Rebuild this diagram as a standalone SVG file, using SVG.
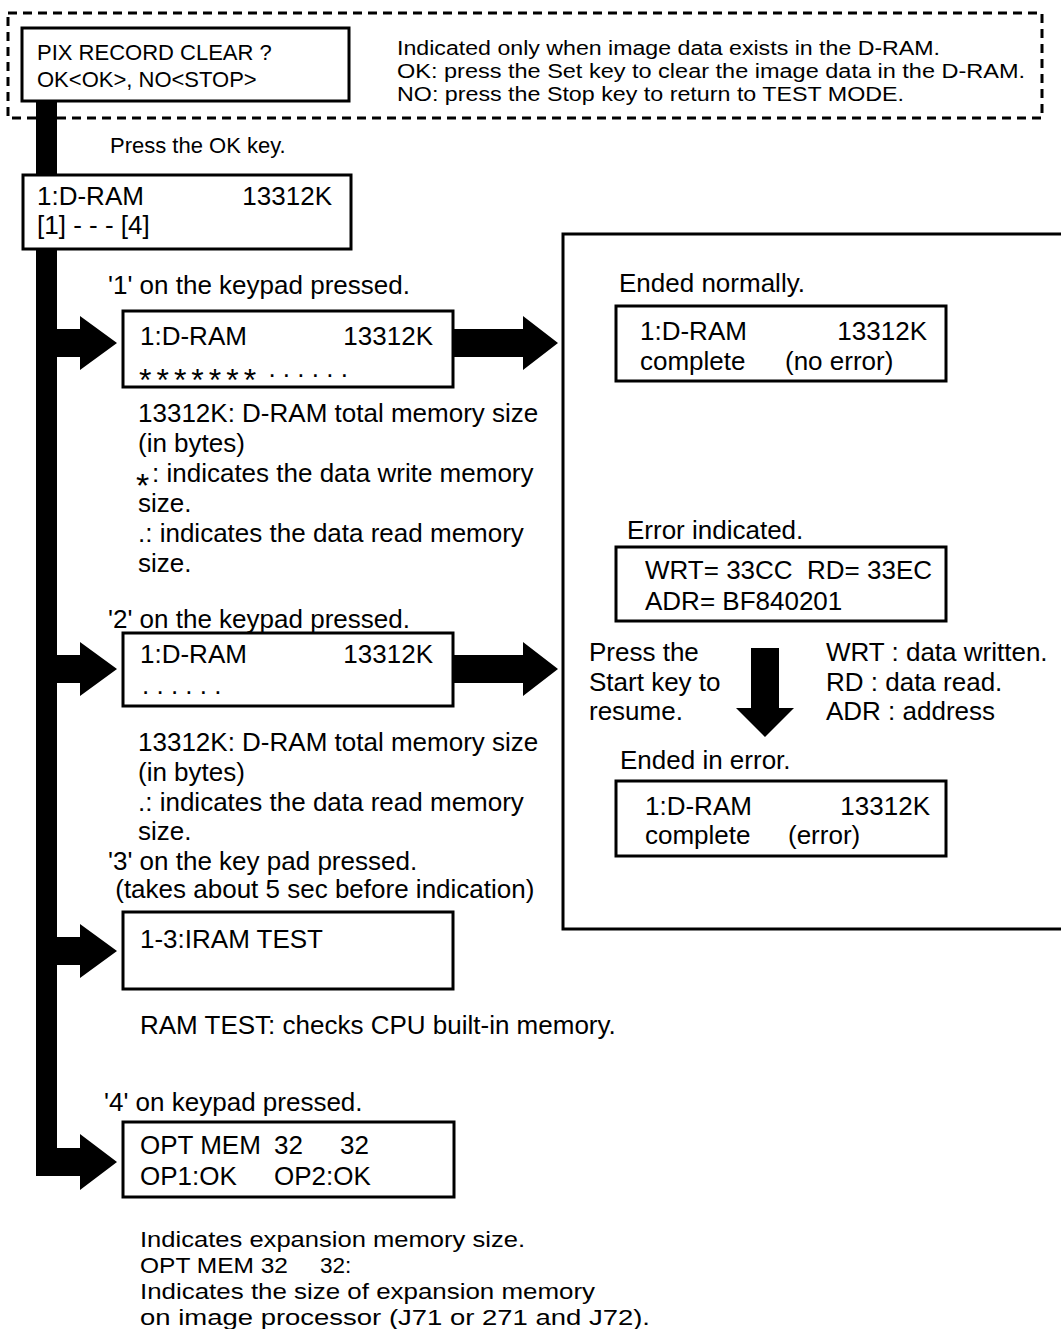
<svg xmlns="http://www.w3.org/2000/svg" width="1061" height="1329" viewBox="0 0 1061 1329">
  <style>
    text { font-family: "Liberation Sans", Arial, Helvetica, sans-serif; fill: #000; }
    .s22 { font-size: 22px; }
    .s20 { font-size: 20px; }
    .s26 { font-size: 26px; }
    .note { font-size: 22.5px; }
    .end { text-anchor: end; }
    .box { fill: #fff; stroke: #000; stroke-width: 3; }
    .panel { fill: none; stroke: #000; stroke-width: 3; }
    .dash { fill: none; stroke: #000; stroke-width: 3; stroke-dasharray: 9 6; }
    .blk { fill: #000; stroke: none; }
    .stars { font-size: 32px; letter-spacing: 5px; }
    .star { font-size: 34px; }
  </style>

  <!-- dashed frame around the optional clear prompt -->
  <rect id="clear-frame" class="dash" x="8" y="13" width="1034" height="105"/>

  <!-- flow bar and block arrows -->
  <g id="connectors">
    <rect class="blk" x="36" y="100" width="21" height="1076"/>
    <!-- branch arrows into each display -->
    <polygon class="blk" points="57,329 80,329 80,316 117,343 80,370 80,357 57,357"/>
    <polygon class="blk" points="57,655 80,655 80,642 117,669 80,696 80,683 57,683"/>
    <polygon class="blk" points="57,937 80,937 80,924 117,951 80,978 80,965 57,965"/>
    <polygon class="blk" points="36,1148 80,1148 80,1134 117,1162 80,1190 80,1176 36,1176"/>
    <!-- results arrows -->
    <polygon class="blk" points="453,329 523,329 523,316 558,343 523,370 523,357 453,357"/>
    <polygon class="blk" points="453,655 523,655 523,642 558,669 523,696 523,683 453,683"/>
    <!-- resume arrow -->
    <polygon class="blk" points="751,648 779,648 779,708 794,708 765,737 736,708 751,708"/>
  </g>

  <g id="pix-clear">
    <rect class="box" x="22" y="28" width="327" height="73"/>
    <text class="s22" x="37" y="60">PIX RECORD CLEAR ?</text>
    <text class="s22" x="37" y="87">OK&lt;OK&gt;, NO&lt;STOP&gt;</text>
  </g>

  <g id="pix-clear-note">
    <text class="s20" x="397" y="55" textLength="543" lengthAdjust="spacingAndGlyphs">Indicated only when image data exists in the D-RAM.</text>
    <text class="s20" x="397" y="78" textLength="628" lengthAdjust="spacingAndGlyphs">OK: press the Set key to clear the image data in the D-RAM.</text>
    <text class="s20" x="397" y="101" textLength="507" lengthAdjust="spacingAndGlyphs">NO: press the Stop key to return to TEST MODE.</text>
  </g>

  <text id="ok-label" class="s22" x="110" y="153">Press the OK key.</text>

  <g id="dram-menu">
    <rect class="box" x="23" y="175" width="328" height="74"/>
    <text class="s26" x="37" y="205">1:D-RAM</text>
    <text class="s26 end" x="332" y="205">13312K</text>
    <text class="s26" x="37" y="234">[1] - - - [4]</text>
  </g>

  <!-- key 1: write / read test -->
  <g id="key1">
    <text class="s26" x="108" y="294">'1' on the keypad pressed.</text>
    <rect class="box" x="123" y="311" width="330" height="76"/>
    <text class="s26" x="140" y="345">1:D-RAM</text>
    <text class="s26 end" x="433" y="345">13312K</text>
    <text class="s26" x="139" y="377"><tspan class="stars" dy="14">*******</tspan><tspan dy="-14"> . . . . . .</tspan></text>
    <text class="s26" x="138" y="422">13312K: D-RAM total memory size</text>
    <text class="s26" x="138" y="452">(in bytes)</text>
    <text class="star" x="136" y="497">*</text>
    <text class="s26" x="152" y="482">: indicates the data write memory</text>
    <text class="s26" x="138" y="512">size.</text>
    <text class="s26" x="138" y="542">.: indicates the data read memory</text>
    <text class="s26" x="138" y="572">size.</text>
  </g>

  <!-- key 2: read test -->
  <g id="key2">
    <text class="s26" x="108" y="628">'2' on the keypad pressed.</text>
    <rect class="box" x="123" y="633" width="330" height="73"/>
    <text class="s26" x="140" y="663">1:D-RAM</text>
    <text class="s26 end" x="433" y="663">13312K</text>
    <text class="s26" x="142" y="694">. . . . . .</text>
    <text class="s26" x="138" y="751">13312K: D-RAM total memory size</text>
    <text class="s26" x="138" y="781">(in bytes)</text>
    <text class="s26" x="138" y="811">.: indicates the data read memory</text>
    <text class="s26" x="138" y="840">size.</text>
  </g>

  <!-- test result panel -->
  <g id="results">
    <rect class="panel" x="563" y="234" width="520" height="695"/>
    <text class="s26" x="619" y="292">Ended normally.</text>
    <rect class="box" x="616" y="306" width="330" height="75"/>
    <text class="s26" x="640" y="340">1:D-RAM</text>
    <text class="s26 end" x="927" y="340">13312K</text>
    <text class="s26" x="640" y="370">complete</text>
    <text class="s26" x="785" y="370">(no error)</text>

    <text class="s26" x="627" y="539">Error indicated.</text>
    <rect class="box" x="616" y="547" width="330" height="74"/>
    <text class="s26" x="645" y="579" xml:space="preserve">WRT= 33CC  RD= 33EC</text>
    <text class="s26" x="645" y="610">ADR= BF840201</text>

    <text class="s26" x="589" y="661">Press the</text>
    <text class="s26" x="589" y="691">Start key to</text>
    <text class="s26" x="589" y="720">resume.</text>
    <text class="s26" x="826" y="661">WRT : data written.</text>
    <text class="s26" x="826" y="691">RD : data read.</text>
    <text class="s26" x="826" y="720">ADR : address</text>

    <text class="s26" x="620" y="769">Ended in error.</text>
    <rect class="box" x="616" y="781" width="330" height="75"/>
    <text class="s26" x="645" y="815">1:D-RAM</text>
    <text class="s26 end" x="930" y="815">13312K</text>
    <text class="s26" x="645" y="844">complete</text>
    <text class="s26" x="788" y="844">(error)</text>
  </g>

  <!-- key 3: CPU internal RAM -->
  <g id="key3">
    <text class="s26" x="108" y="870">'3' on the key pad pressed.</text>
    <text class="s26" x="108" y="898" xml:space="preserve"> (takes about 5 sec before indication)</text>
    <rect class="box" x="123" y="912" width="330" height="77"/>
    <text class="s26" x="140" y="948">1-3:IRAM TEST</text>
    <text class="s26" x="140" y="1034">RAM TEST: checks CPU built-in memory.</text>
  </g>

  <!-- key 4: expansion memory -->
  <g id="key4">
    <text class="s26" x="104" y="1111">'4' on keypad pressed.</text>
    <rect class="box" x="123" y="1122" width="331" height="75"/>
    <text class="s26" x="140" y="1154">OPT MEM</text>
    <text class="s26" x="274" y="1154">32</text>
    <text class="s26" x="340" y="1154">32</text>
    <text class="s26" x="140" y="1185">OP1:OK</text>
    <text class="s26" x="274" y="1185">OP2:OK</text>
    <text class="note" x="140" y="1247" textLength="385" lengthAdjust="spacingAndGlyphs">Indicates expansion memory size.</text>
    <text class="note" x="140" y="1273" textLength="148" lengthAdjust="spacingAndGlyphs">OPT MEM 32</text>
    <text class="note" x="320" y="1273">32:</text>
    <text class="note" x="140" y="1299" textLength="455" lengthAdjust="spacingAndGlyphs">Indicates the size of expansion memory</text>
    <text class="note" x="140" y="1325" textLength="510" lengthAdjust="spacingAndGlyphs">on image processor (J71 or 271 and J72).</text>
  </g>
</svg>
